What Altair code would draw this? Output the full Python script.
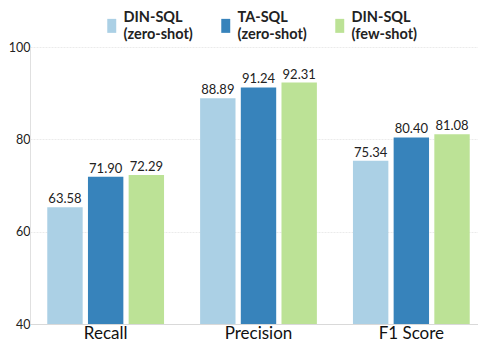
import altair as alt
import pandas as pd

metrics = ["Recall", "Precision", "F1 Score"]
series = ["DIN-SQL (zero-shot)", "TA-SQL (zero-shot)", "DIN-SQL (few-shot)"]
colors = ["#abd0e5", "#3783bb", "#bce296"]

# bar heights as drawn in the picture
din_zero = [65.3, 88.89, 75.34]
ta_zero = [71.90, 91.24, 80.40]
din_few = [72.29, 92.31, 81.08]
# value labels printed above bars
din_zero_labels = ["63.58", "88.89", "75.34"]
ta_zero_labels = ["71.90", "91.24", "80.40"]
din_few_labels = ["72.29", "92.31", "81.08"]

rows = []
for s, vals, labs in zip(series, [din_zero, ta_zero, din_few],
                         [din_zero_labels, ta_zero_labels, din_few_labels]):
    for m, v, l in zip(metrics, vals, labs):
        rows.append({"metric": m, "series": s, "value": v, "label": l, "base": 40})
df = pd.DataFrame(rows)

FONT = "Lato"

base = alt.Chart(df).encode(
    x=alt.X("metric:N", sort=metrics, title=None,
            scale=alt.Scale(paddingInner=0.236, paddingOuter=0.113,
                            range=[0, 457]),
            axis=alt.Axis(labelAngle=0, labelFont=FONT, labelFontSize=17,
                          labelColor="#111", labelPadding=1, ticks=False,
                          domainColor="#d9d9d9", grid=False)),
    xOffset=alt.XOffset("series:N", sort=series,
                        scale=alt.Scale(paddingInner=0.13, paddingOuter=0)),
    y=alt.Y("value:Q", title=None,
            scale=alt.Scale(domain=[40, 100], nice=False, zero=False),
            axis=alt.Axis(values=[40, 60, 80, 100], labelFont=FONT,
                          labelFontSize=12.5, labelColor="#222", ticks=False,
                          labelPadding=0, domainColor="#e0e0e0",
                          gridColor="#ebebeb", gridDash=[2, 1])),
)

bars = base.mark_bar().encode(
    y2="base:Q",
    color=alt.Color("series:N", sort=series,
                    scale=alt.Scale(domain=series, range=colors),
                    legend=alt.Legend(orient="none", legendX=74.5, legendY=-36,
                                      direction="horizontal", title=None,
                                      labelExpr="split(datum.label, ' ')",
                                      labelFont=FONT, labelFontWeight="bold",
                                      labelFontSize=14.5, labelColor="#222",
                                      symbolType="M-0.64,0.07H0.64V2.07H-0.64Z",
                                      symbolSize=196, symbolStrokeWidth=0,
                                      labelOffset=4.5, columnPadding=25,
                                      padding=0))
)

text = base.mark_text(dy=-4, baseline="alphabetic", font=FONT, fontSize=13,
                      color="#222").encode(text="label:N")

chart = (bars + text).properties(
    width=448, height=277,
    autosize=alt.AutoSizeParams(type="none"),
    padding={"left": 22, "top": 39, "right": 0, "bottom": 20},
).configure(
    style={"guide-label": {"lineHeight": 17}},
    view=alt.ViewConfig(stroke=None),
)

chart.save("out.html", embed_options={"renderer": "svg", "actions": False})
